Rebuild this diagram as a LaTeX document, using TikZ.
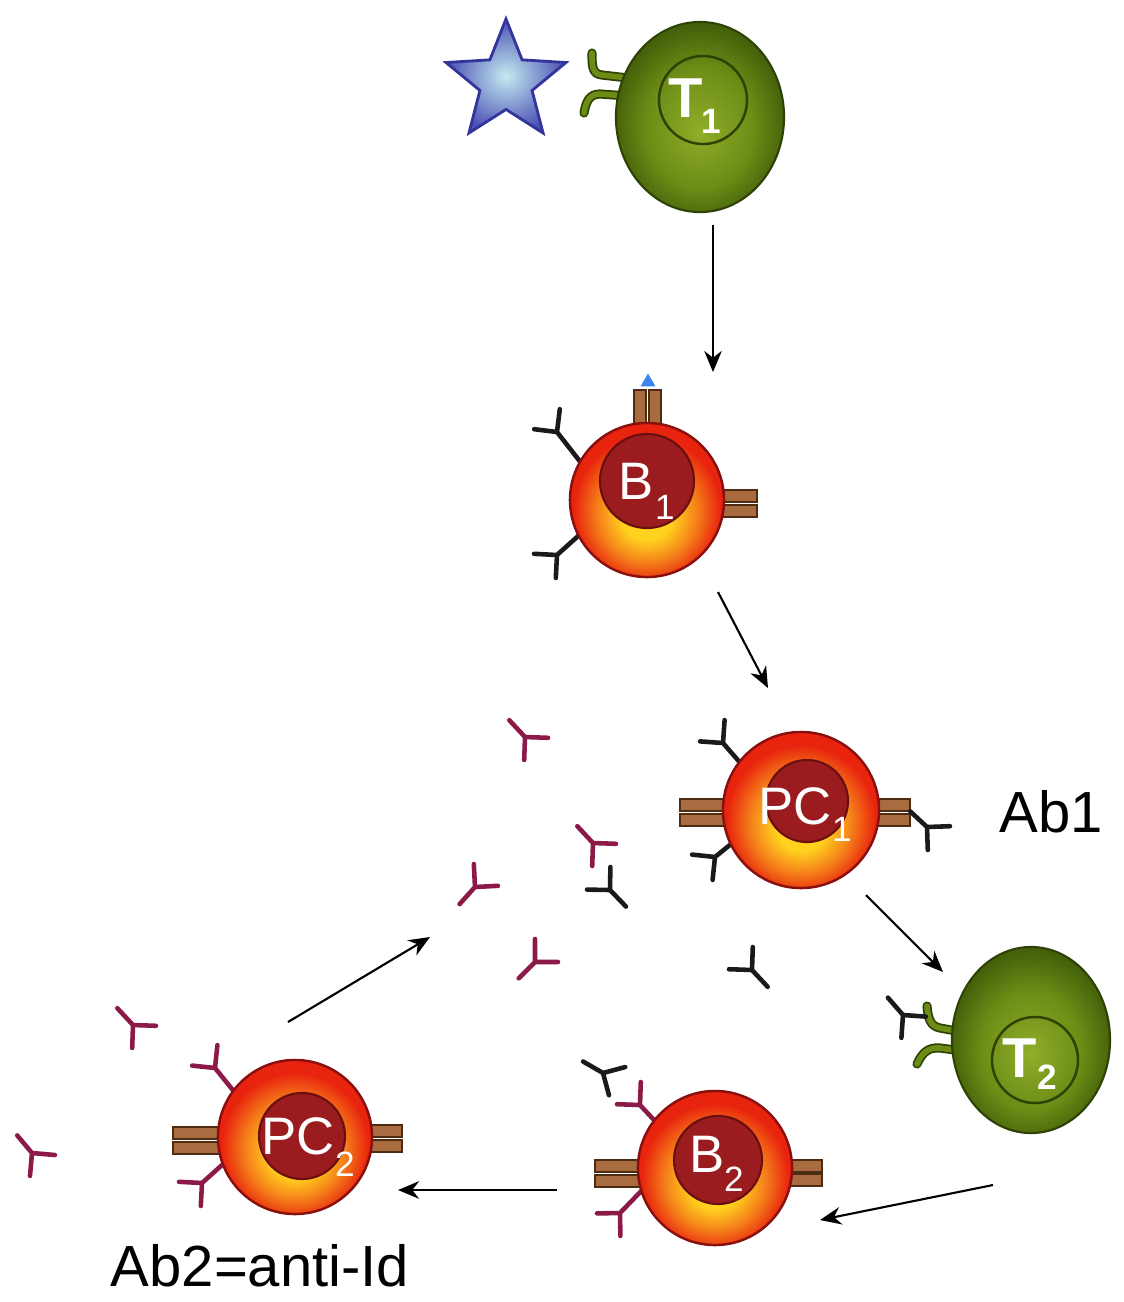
\documentclass[tikz,border=0pt]{standalone}
\usepackage{fontspec}
\setmainfont{Liberation Sans}
\usetikzlibrary{arrows.meta,shapes.geometric}

\definecolor{cellred}{HTML}{E8230E}
\definecolor{cellorange}{HTML}{F5821A}
\definecolor{cellyellow}{HTML}{FFD21E}
\definecolor{cellrim}{HTML}{8A1010}
\definecolor{nucred}{HTML}{9B1C1E}
\definecolor{nucrim}{HTML}{6A0E10}
\definecolor{tlight}{HTML}{8FAE2A}
\definecolor{tmid}{HTML}{6C8C16}
\definecolor{tdark}{HTML}{44600A}
\definecolor{trim}{HTML}{2F4206}
\definecolor{barfill}{HTML}{A86C40}
\definecolor{barrim}{HTML}{4E2C12}
\definecolor{abmaroon}{HTML}{8C1A48}
\definecolor{abblack}{HTML}{1A1A1A}
\definecolor{starrim}{HTML}{34349C}
\definecolor{starcore}{HTML}{C4EAF0}
\definecolor{starblue}{HTML}{4A50B4}
\definecolor{agblue}{HTML}{3C84EE}

% glow of the B / plasma cells: yellow below the nucleus, red rim
\pgfdeclareradialshading{cellglow}{\pgfqpoint{0bp}{-6bp}}{color(0bp)=(cellyellow); color(8bp)=(cellyellow); color(16bp)=(cellorange); color(24bp)=(cellred); color(50bp)=(cellred)}
% T cell body
\pgfdeclareradialshading{tglow}{\pgfqpoint{0bp}{-4bp}}{color(0bp)=(tlight); color(16bp)=(tmid); color(26bp)=(tdark); color(50bp)=(tdark)}

\tikzset{
  cellbody/.style={circle, inner sep=0, shading=cellglow, draw=cellrim, line width=0.7pt},
  nucleus/.style={circle, inner sep=0, fill=nucred, draw=nucrim, line width=0.6pt},
  tbody/.style={ellipse, inner sep=0, shading=tglow, draw=trim, line width=0.6pt},
  tnuc/.style={circle, inner sep=0, draw=trim, line width=0.7pt},
  celltext/.style={text=white, font=\fontsize{15}{18}\selectfont, inner sep=0},
  cellsub/.style={text=white, font=\fontsize{10}{12}\selectfont, inner sep=0},
  ttext/.style={text=white, font=\bfseries\fontsize{16}{19}\selectfont, inner sep=0},
  tsub/.style={text=white, font=\bfseries\fontsize{10}{12}\selectfont, inner sep=0},
  bar/.style={fill=barfill, draw=barrim, line width=0.5pt},
  abline/.style={line width=1.3pt, line cap=round, line join=round},
  receptor/.style={draw=trim, double=tmid, double distance=1.6pt, line width=0.5pt, line cap=round},
  arr/.style={line width=0.6pt, -{Stealth[length=6pt, width=5pt]}},
  caption/.style={font=\fontsize{16.5}{20}\selectfont, inner sep=0},
  freeab/.pic={\draw[abline, #1] (-23,0) -- (0,0) (45:23) -- (0,0) -- (-45:23);},
  cellab/.pic={\draw[abline, #1] (-38,0) -- (0,0) (45:23) -- (0,0) -- (-45:23);}
}

\begin{document}
\begin{tikzpicture}[x=0.01cm, y=-0.01cm]
\fill[white] (0,0) rectangle (1124,1302);
\useasboundingbox (0,0) rectangle (1124,1302);

% ---------- membrane receptors (behind the cells) ----------
% T1 receptors
\draw[receptor] (628,78) -- (602,75) .. controls (592,74) and (592,66) .. (592,53);
\draw[receptor] (628,96) -- (600,94) .. controls (589,94) and (586,102) .. (584,113);
% T2 receptors
\draw[receptor] (978,1035) -- (940,1028) .. controls (930,1026) and (928,1018) .. (927,1006);
\draw[receptor] (978,1053) -- (940,1048) .. controls (928,1047) and (922,1053) .. (917,1064);

% B1 receptors
\draw[bar] (634,390) rectangle (646,430);
\draw[bar] (649,390) rectangle (661,430);
\draw[bar] (712,490) rectangle (757,502);
\draw[bar] (712,505) rectangle (757,517);
% PC1 receptors
\draw[bar] (680,799) rectangle (732,811);
\draw[bar] (680,814) rectangle (732,826);
\draw[bar] (870,799) rectangle (910,811);
\draw[bar] (870,814) rectangle (910,826);
% B2 receptors
\draw[bar] (595,1160) rectangle (648,1172);
\draw[bar] (595,1175) rectangle (648,1187);
\draw[bar] (782,1160) rectangle (822,1172);
\draw[bar] (782,1174) rectangle (822,1186);
% PC2 receptors
\draw[bar] (173,1127) rectangle (228,1139);
\draw[bar] (173,1142) rectangle (228,1154);
\draw[bar] (362,1125) rectangle (402,1137);
\draw[bar] (362,1140) rectangle (402,1152);

% ---------- surface antibodies ----------
\pic[rotate=128] at (557,432) {cellab=abblack};
\pic[rotate=222] at (557,555) {cellab=abblack};
\pic[rotate=131] at (723,743) {cellab=abblack};
\pic[rotate=219] at (715,857) {cellab=abblack};
\pic[rotate=133] at (640,1105) {cellab=abmaroon};
\pic[rotate=226] at (620,1213) {cellab=abmaroon};
\pic[rotate=129] at (215,1068) {cellab=abmaroon};
\pic[rotate=222] at (202,1183) {cellab=abmaroon};

% ---------- cells ----------
\node[tbody, minimum width=1.68cm, minimum height=1.9cm] (T1) at (700,117) {};
\node[tnuc, minimum size=0.88cm] (T1n) at (703,100) {};
\node[ttext] (T1t) at (686,98) {T};
\node[tsub] (T1s) at (711,121) {1};

\node[cellbody, minimum size=1.54cm] (B1) at (647,500) {};
\node[nucleus, minimum size=0.94cm] (B1n) at (647,481) {};
\node[celltext] (B1t) at (636,481) {B};
\node[cellsub] (B1s) at (665,507) {1};

\node[cellbody, minimum size=1.56cm] (PC1) at (801,810) {};
\node[nucleus, minimum size=0.82cm] (PC1n) at (807,801) {};
\node[celltext] (PC1t) at (795,806) {PC};
\node[cellsub] (PC1s) at (842,829) {1};

\node[tbody, minimum width=1.58cm, minimum height=1.86cm] (T2) at (1031,1040) {};
\node[tnuc, minimum size=0.86cm] (T2n) at (1035,1060) {};
\node[ttext] (T2t) at (1020,1058) {T};
\node[tsub] (T2s) at (1047,1077) {2};

\node[cellbody, minimum size=1.54cm] (B2) at (715,1168) {};
\node[nucleus, minimum size=0.88cm] (B2n) at (718,1160) {};
\node[celltext] (B2t) at (707,1154) {B};
\node[cellsub] (B2s) at (734,1179) {2};

\node[cellbody, minimum size=1.54cm] (PC2) at (295,1137) {};
\node[nucleus, minimum size=0.86cm] (PC2n) at (302,1136) {};
\node[celltext] (PC2t) at (298,1136) {PC};
\node[cellsub] (PC2s) at (345,1164) {2};

% ---------- antigens ----------
\node[star, star points=5, star point ratio=2.3, minimum size=1.26cm, inner sep=0,
      draw=starrim, line width=0.8pt, inner color=starcore, outer color=starblue] (antigen) at (506,82) {};
\node[regular polygon, regular polygon sides=3, fill=agblue, minimum size=0.17cm, inner sep=0] (ag) at (648,382) {};

% ---------- free antibodies ----------
\pic[rotate=-43] at (927,827) {freeab=abblack};
\pic[rotate=-49] at (903,1015) {freeab=abblack};
\pic[rotate=-30] at (603,1073) {freeab=abblack};
\pic[rotate=134] at (610,890) {freeab=abblack};
\pic[rotate=133] at (752,970) {freeab=abblack};
\pic[rotate=-47] at (525,737) {freeab=abmaroon};
\pic[rotate=-47] at (593,843) {freeab=abmaroon};
\pic[rotate=48] at (475,887) {freeab=abmaroon};
\pic[rotate=45] at (535,962) {freeab=abmaroon};
\pic[rotate=-47] at (133,1025) {freeab=abmaroon};
\pic[rotate=-50] at (32,1153) {freeab=abmaroon};

% ---------- arrows ----------
\coordinate (a1) at (713,225);  \coordinate (b1) at (713,372);
\coordinate (a2) at (718,592);  \coordinate (b2) at (768,688);
\coordinate (a3) at (866,895);  \coordinate (b3) at (943,972);
\coordinate (a4) at (993,1185); \coordinate (b4) at (820,1220);
\coordinate (a5) at (557,1190); \coordinate (b5) at (398,1190);
\coordinate (a6) at (288,1022); \coordinate (b6) at (430,937);
\draw[arr] (a1) -- (b1);
\draw[arr] (a2) -- (b2);
\draw[arr] (a3) -- (b3);
\draw[arr] (a4) -- (b4);
\draw[arr] (a5) -- (b5);
\draw[arr] (a6) -- (b6);

% ---------- captions ----------
\node[caption] (ab1) at (1051,812) {Ab1};
\node[caption] (ab2) at (260,1266) {Ab2=anti-Id};
\end{tikzpicture}
\end{document}
